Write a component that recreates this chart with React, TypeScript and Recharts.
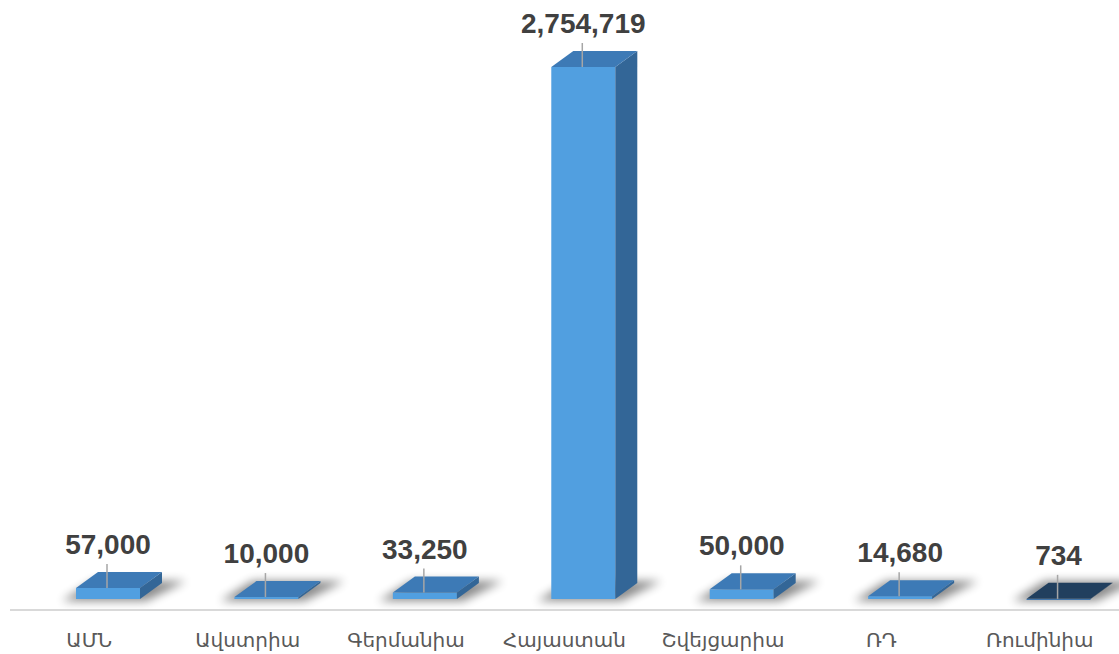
import { Bar, BarChart, XAxis, YAxis } from "recharts";

// Categories and values.
const countries = ["ԱՄՆ", "Ավստրիա", "Գերմանիա", "Հայաստան", "Շվեյցարիա", "ՌԴ", "Ռումինիա"];
const amounts = [57000, 10000, 33250, 2754719, 50000, 14680, 734];
// Last bar is drawn in a darker shade in the source.
const darkBars = [false, false, false, false, false, false, true];

const data = countries.map((name, i) => ({ name, value: amounts[i], dark: darkBars[i] }));

const FONT = "'Liberation Sans', Arial, 'DejaVu Sans', sans-serif";
const LABEL_FONT = "'Noto Sans', 'DejaVu Sans', sans-serif";

// 3D look: depth offset to the upper right, base lifted above the axis line.
const DX = 22;
const DY = 16;
const LIFT = 11;
const SHIFT = 19;

function Box3D(props: any) {
  const { x, y, width, height, payload } = props;
  const fx = x + SHIFT;
  const w = width;
  const h = Math.max(height, 0);
  const top = y - LIFT;
  const bottom = top + h;
  const dark = payload?.dark;
  const front = dark ? "#2e6aa8" : "#519fe0";
  const topFill = dark ? "#213f5e" : "#3d7ab6";
  const side = dark ? "#1b3550" : "#336697";
  const label = Number(payload?.value).toLocaleString("en-US");
  const cx = fx + w / 2;
  return (
    <g>
      <polygon
        points={`${fx - 14},${bottom + 2} ${fx + w + 6},${bottom + 2} ${fx + w + DX + 24},${bottom - DY - 2} ${fx + DX - 4},${bottom - DY - 2}`}
        fill="#000"
        opacity={0.45}
        filter="url(#soft)"
      />
      <rect x={fx} y={top} width={w} height={Math.max(h, 1)} fill={front} />
      <polygon
        points={`${fx + w},${top} ${fx + w + DX},${top - DY} ${fx + w + DX},${bottom - DY} ${fx + w},${bottom}`}
        fill={side}
      />
      <polygon
        points={`${fx},${top} ${fx + DX},${top - DY} ${fx + w + DX},${top - DY} ${fx + w},${top}`}
        fill={topFill}
      />
      <line x1={cx - 1} x2={cx - 1} y1={top - DY - 18 + 10} y2={top} stroke="#a6a6a6" strokeWidth={1.5} />
      <text
        x={cx}
        y={top - DY - 18}
        textAnchor="middle"
        fontFamily={FONT}
        fontWeight={700}
        fontSize={28}
        fill="#404040"
      >
        {label}
      </text>
    </g>
  );
}

function CountryTick(props: any) {
  const { x, y, payload } = props;
  return (
    <text
      x={x}
      y={y + 29}
      textAnchor="middle"
      fontFamily={LABEL_FONT}
      fontSize={20}
      fill="#595959"
    >
      {payload.value}
    </text>
  );
}

export default function App() {
  return (
    <div style={{ width: 1119, height: 654, background: "#fff" }}>
      <style>{`body{margin:0}`}</style>
      <BarChart
        width={1119}
        height={654}
        data={data}
        margin={{ top: 78, right: 0, left: 10, bottom: 0 }}
        barSize={64}
      >
        <defs>
          <filter id="soft" x="-50%" y="-100%" width="200%" height="300%">
            <feGaussianBlur stdDeviation="5" />
          </filter>
        </defs>
        <XAxis
          dataKey="name"
          height={44}
          tickLine={false}
          axisLine={{ stroke: "#d9d9d9", strokeWidth: 2 }}
          tick={<CountryTick />}
          interval={0}
        />
        <YAxis hide domain={[0, 2754719]} />
        <Bar dataKey="value" shape={<Box3D />} isAnimationActive={false} />
      </BarChart>
    </div>
  );
}
